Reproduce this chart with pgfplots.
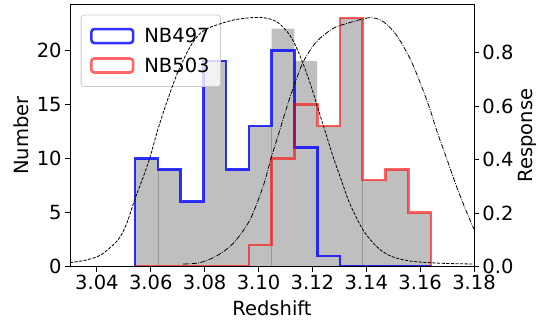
\documentclass[border=0pt]{standalone}
\usepackage{fontspec}
\setmainfont{DejaVu Sans}
\usepackage{pgfplots}
\pgfplotsset{compat=1.18}

\newcommand{\chartfont}{\fontsize{19.5bp}{23bp}\selectfont}
\definecolor{histgray}{RGB}{191,191,191}
\definecolor{seamgray}{RGB}{150,150,150}
\definecolor{legendedge}{RGB}{204,204,204}

\pgfplotsset{
  common/.style={
    scale only axis, width=404bp, height=262.4bp,
    at={(0,0)}, anchor=south west,
    xmin=3.03, xmax=3.18,
    tick align=outside, major tick length=4.9bp,
    every tick/.style={black, line width=0.9bp},
    tick label style={font=\chartfont},
    label style={font=\chartfont},
    /pgf/number format/assume math mode=true,
    axis line style={line width=0.9bp},
  },
}

\begin{document}
\begin{tikzpicture}
% redshift histograms (counts, left axis)
\begin{axis}[common,
  axis on top,
  ymin=0, ymax=24.25,
  xtick={3.04,3.06,3.08,3.10,3.12,3.14,3.16,3.18},
  x tick label style={/pgf/number format/fixed, /pgf/number format/fixed zerofill, /pgf/number format/precision=2},
  ytick={0,5,10,15,20},
  xtick pos=left, ytick pos=left,
  xlabel={Redshift}, ylabel={Number},
  x label style={at={(axis description cs:0.5,-0.1864)}, anchor=base},
  y label style={at={(axis description cs:-0.1032,0.5)}, anchor=base},
  legend style={at={(axis description cs:0.0265,0.9604)}, anchor=north west,
    draw=legendedge, line width=0.8bp, rounded corners=3bp,
    fill=white, fill opacity=0.8, text opacity=1, font=\chartfont,
    inner xsep=9bp, inner ysep=11bp, row sep=9.5bp},
  legend cell align=left,
  legend image code/.code={\draw[#1] (0bp,-7bp) rectangle (41.7bp,7bp); \path[draw=none] (41.7bp,0bp) -- (51bp,0bp);},
]
% combined sample
\addplot[fill=histgray, draw=none, const plot, forget plot] coordinates {
  (3.0541,0) (3.0541,10) (3.0626,9) (3.0710,6) (3.0795,19) (3.0879,9)
  (3.0964,13) (3.1049,22) (3.1133,19) (3.1218,13) (3.1302,23) (3.1387,8)
  (3.1472,9) (3.1556,5) (3.1641,0)};
\addplot[seamgray, line width=0.6bp, forget plot] coordinates {(3.0626,0) (3.0626,9)};
\addplot[seamgray, line width=0.6bp, forget plot] coordinates {(3.1049,0) (3.1049,13)};
\addplot[seamgray, line width=0.6bp, forget plot] coordinates {(3.1387,0) (3.1387,8)};
% NB497
\addplot[draw=blue, draw opacity=0.8, line width=2.6bp, line join=miter, const plot] coordinates {
  (3.0541,0) (3.0541,10) (3.0626,9) (3.0710,6) (3.0795,19) (3.0879,9)
  (3.0964,13) (3.1049,20) (3.1133,11) (3.1218,1) (3.1302,0) (3.1387,0)
  (3.1472,0) (3.1556,0) (3.1641,0)};
\addlegendentry{NB497}
% NB503
\addplot[draw=red, draw opacity=0.6, line width=2.6bp, line join=miter, const plot] coordinates {
  (3.0541,0) (3.0541,0) (3.0626,0) (3.0710,0) (3.0795,0) (3.0879,0)
  (3.0964,2) (3.1049,10) (3.1133,15) (3.1218,13) (3.1302,23) (3.1387,8)
  (3.1472,9) (3.1556,5) (3.1641,0)};
\addlegendentry{NB503}
\end{axis}

% filter response curves (right axis)
\begin{axis}[common,
  ymin=0, ymax=0.98,
  axis x line=none, axis y line*=right,
  ytick={0,0.2,0.4,0.6,0.8},
  y tick label style={/pgf/number format/fixed, /pgf/number format/fixed zerofill, /pgf/number format/precision=1},
  ylabel={Response},
  y label style={at={(axis description cs:1.146,0.5)}, anchor=base},
]
\addplot[black, line width=0.8bp, dash pattern=on 3.2bp off 1.4bp, smooth] coordinates {
  (3.030,0.015) (3.036,0.025) (3.0416,0.045) (3.0478,0.10) (3.051,0.16)
  (3.054,0.25) (3.057,0.33) (3.0596,0.405) (3.0627,0.515) (3.0664,0.628)
  (3.0701,0.728) (3.075,0.828) (3.080,0.884) (3.0906,0.921) (3.1005,0.931)
  (3.1067,0.915) (3.1116,0.865) (3.1153,0.79) (3.119,0.69) (3.1221,0.59)
  (3.1246,0.51) (3.1277,0.41) (3.1305,0.33) (3.1333,0.25) (3.136,0.19)
  (3.1388,0.137) (3.142,0.095) (3.145,0.065) (3.148,0.045) (3.1512,0.032)
  (3.157,0.02) (3.1636,0.015) (3.170,0.012) (3.180,0.01)};
\addplot[black, line width=0.8bp, dash pattern=on 5bp off 1.4bp on 0.9bp off 1.4bp, smooth] coordinates {
  (3.072,0.01) (3.0782,0.015) (3.0844,0.04) (3.0906,0.087) (3.0968,0.175)
  (3.1017,0.30) (3.1048,0.41) (3.1079,0.51) (3.1100,0.58) (3.1128,0.665)
  (3.1166,0.765) (3.1215,0.84) (3.1277,0.89) (3.1327,0.908) (3.1413,0.93)
  (3.1463,0.915) (3.1512,0.865) (3.1562,0.778) (3.1599,0.69) (3.1636,0.59)
  (3.1661,0.51) (3.1700,0.40) (3.1735,0.30) (3.1770,0.21) (3.1800,0.14)};
\end{axis}
\pgfresetboundingbox
\path[use as bounding box] (-70bp,-53.3bp) rectangle (468bp,266.7bp);
\end{tikzpicture}
\end{document}
